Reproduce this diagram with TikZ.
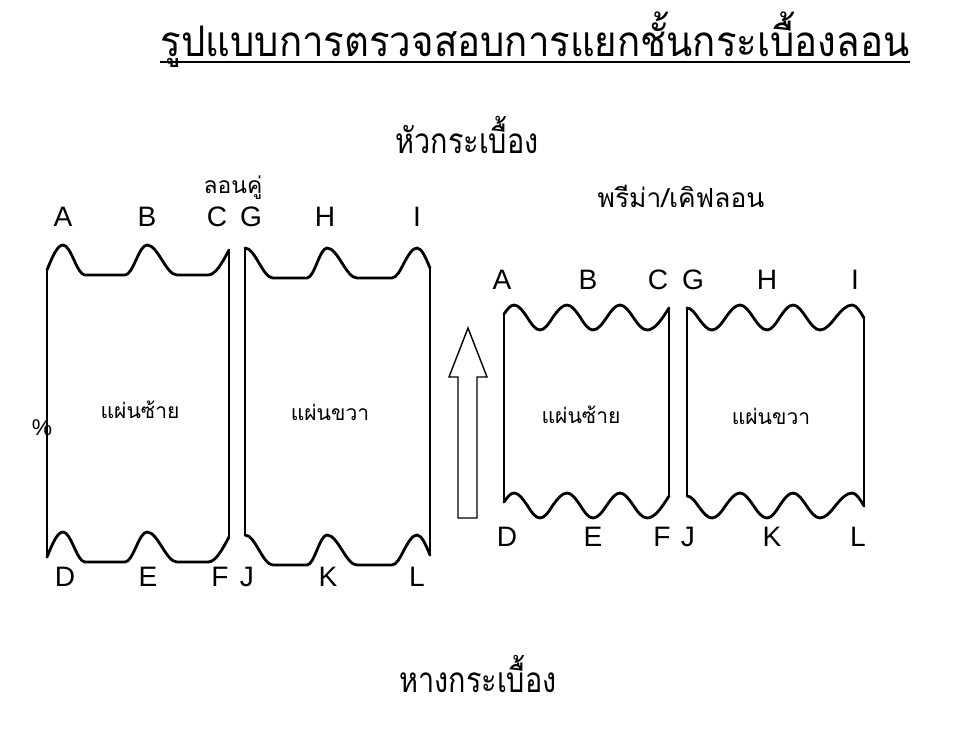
\documentclass[tikz,border=0pt]{standalone}
\usepackage{fontspec}
\setmainfont{Liberation Sans}
\newfontfamily\thai[Script=Thai]{Loma}

\begin{document}
\begin{tikzpicture}[%
        x=0.02cm, y=-0.02cm,
        sheet/.style={ line width=1.6pt, line cap=round, line join=round },%
        letter/.style={ inner sep=0pt, font=\fontsize{16}{18}\selectfont },%
        heading/.style={ inner sep=0pt, font=\thai\fontsize{20}{24}\selectfont },%
        note/.style={ inner sep=0pt, font=\thai\fontsize{13}{15}\selectfont },%
        plate/.style={ inner sep=0pt, font=\thai\fontsize{12}{14}\selectfont }%
      ]
      \useasboundingbox (0,0) rectangle (960,730);
      \node (title) at (535,40) [inner sep=0pt, font=\thai\fontsize{24}{28}\selectfont]{\scalebox{0.91}[1]{รูปแบบการตรวจสอบการแยกชั้นกระเบื้องลอน}};
      \draw [line width=1.1pt] ([yshift=-3pt]title.base west) -- ([yshift=-3pt]title.base east);
      \node (head) at (467,135) [heading]{\scalebox{0.82}[1]{หัวกระเบื้อง}};
      \node (tail) at (478,674) [heading]{\scalebox{0.82}[1]{หางกระเบื้อง}};
      \node (pair) at (233,188) [note]{ลอนคู่};
      \node (prima) at (681,196) [note, font=\thai\fontsize{15}{17}\selectfont]{พรีม่า/เคิฟลอน};
      \node (pct) at (42,428) [inner sep=0pt, font=\fontsize{13}{15}\selectfont]{\%};
      % left pair
      \foreach \dy in {0,287}
        \draw [sheet, shift={(0,\dy)}] (47,270) sin (63,245) cos (74,260) sin (85,275) -- (125,275) cos (136,260) sin (147,245) cos (162,260) sin (177,275) -- (208,275) cos (229,250);
      \draw [sheet] (47,270) -- (47,557) (229,250) -- (229,537);
      \foreach \dy in {0,287}
        \draw [sheet, shift={(0,\dy)}] (245,248) cos (259,263) sin (273,278) -- (307,278) cos (317,263) sin (327,248) cos (342,263) sin (357,278) -- (392,278) cos (404,263) sin (417,248) cos (430,268);
      \draw [sheet] (245,248) -- (245,535) (430,268) -- (430,555);
      \node (lleft) at (140,410) [plate]{แผ่นซ้าย};
      \node (lright) at (330,412) [plate]{แผ่นขวา};
      \foreach \l/\x in {A/63,B/147,C/217,G/251,H/325,I/417}
        \node (l\l) at (\x,217) [letter]{\l};
      \foreach \l/\x in {D/65,E/148,F/220,J/247,K/328,L/417}
        \node (l\l) at (\x,577) [letter]{\l};
      % arrow
      \draw [line width=0.8pt, line join=miter] (458,518) -- (458,377) -- (449,377) -- (468,328) -- (487,377) -- (477,377) -- (477,518) -- cycle;
      % right pair
      \foreach \dy in {0,188}
        \draw [sheet, shift={(0,\dy)}] (504,314) sin (514,305) cos (527,317) sin (540,330) cos (553,317) sin (567,305) cos (580,317) sin (593,330) cos (607,317) sin (620,305) cos (633,317) sin (647,330) cos (669,308);
      \draw [sheet] (504,314) -- (504,502) (669,308) -- (669,496);
      \foreach \dy in {0,188}
        \draw [sheet, shift={(0,\dy)}] (687,308) cos (699,319) sin (712,330) cos (726,317) sin (740,305) cos (753,317) sin (767,330) cos (780,317) sin (793,305) cos (806,317) sin (820,330) cos (836,317) sin (852,305) cos (864,318);
      \draw [sheet] (687,308) -- (687,496) (864,318) -- (864,506);
      \node (rleft) at (581,415) [plate]{แผ่นซ้าย};
      \node (rright) at (771,416) [plate]{แผ่นขวา};
      \foreach \l/\x in {A/502,B/588,C/658,G/693,H/767,I/855}
        \node (r\l) at (\x,280) [letter]{\l};
      \foreach \l/\x in {D/507,E/593,F/662,J/688,K/772,L/858}
        \node (r\l) at (\x,537) [letter]{\l};
    \end{tikzpicture}
\end{document}
